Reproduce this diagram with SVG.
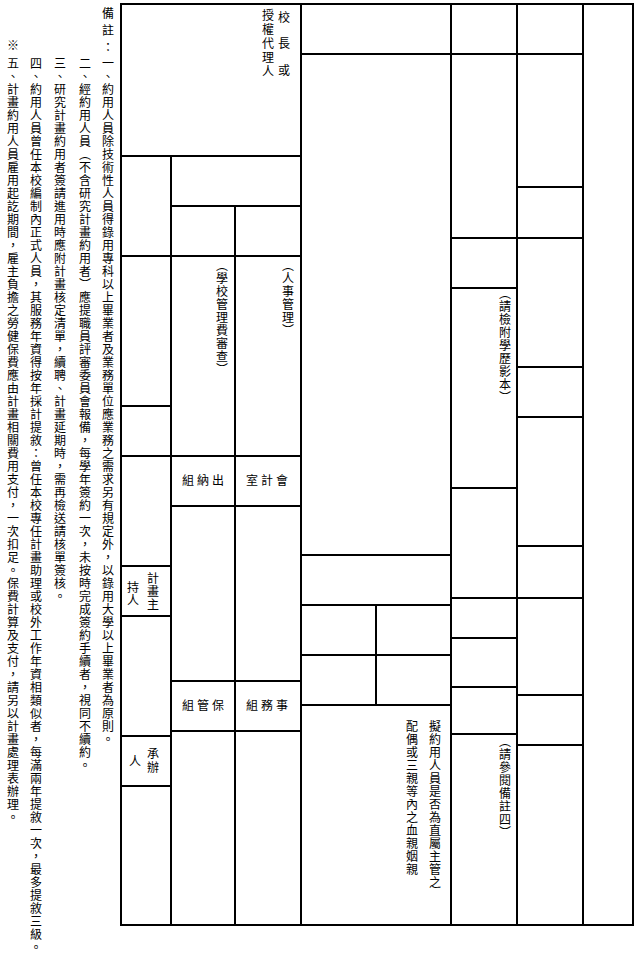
<svg xmlns="http://www.w3.org/2000/svg" width="640" height="954" viewBox="0 0 640 954">
<style>
.ln{stroke:#000;stroke-width:2;fill:none;stroke-linecap:square}
.t{font-family:"Noto Sans CJK TC","Noto Sans CJK SC",sans-serif;font-size:12px;fill:#000}
.v{writing-mode:vertical-rl;letter-spacing:1px}
</style>
<rect width="640" height="954" fill="#fff"/>
<g id="grid" class="ln">
<rect x="121" y="4" width="512" height="921"/>
<line x1="301" y1="4" x2="301" y2="925"/>
<line x1="451" y1="4" x2="451" y2="925"/>
<line x1="517" y1="4" x2="517" y2="925"/>
<line x1="583" y1="4" x2="583" y2="925"/>
<line x1="171" y1="156" x2="171" y2="925"/>
<line x1="235" y1="206" x2="235" y2="925"/>
<line x1="376" y1="605" x2="376" y2="705"/>
<line x1="121" y1="156" x2="301" y2="156"/>
<line x1="171" y1="206" x2="301" y2="206"/>
<line x1="121" y1="256" x2="301" y2="256"/>
<line x1="121" y1="406" x2="171" y2="406"/>
<line x1="121" y1="456" x2="301" y2="456"/>
<line x1="171" y1="506" x2="301" y2="506"/>
<line x1="121" y1="566" x2="171" y2="566"/>
<line x1="121" y1="616" x2="171" y2="616"/>
<line x1="171" y1="681" x2="301" y2="681"/>
<line x1="171" y1="731" x2="301" y2="731"/>
<line x1="121" y1="736" x2="171" y2="736"/>
<line x1="121" y1="786" x2="171" y2="786"/>
<line x1="301" y1="54" x2="583" y2="54"/>
<line x1="301" y1="555" x2="451" y2="555"/>
<line x1="301" y1="605" x2="451" y2="605"/>
<line x1="301" y1="655" x2="451" y2="655"/>
<line x1="301" y1="705" x2="451" y2="705"/>
<line x1="451" y1="238" x2="583" y2="238"/>
<line x1="451" y1="598" x2="583" y2="598"/>
<line x1="451" y1="288" x2="517" y2="288"/>
<line x1="451" y1="488" x2="517" y2="488"/>
<line x1="451" y1="638" x2="517" y2="638"/>
<line x1="451" y1="687" x2="517" y2="687"/>
<line x1="451" y1="734" x2="517" y2="734"/>
<line x1="517" y1="187" x2="583" y2="187"/>
<line x1="517" y1="367" x2="583" y2="367"/>
<line x1="517" y1="417" x2="583" y2="417"/>
<line x1="517" y1="546" x2="583" y2="546"/>
<line x1="517" y1="695" x2="583" y2="695"/>
<line x1="517" y1="745" x2="583" y2="745"/>
</g>
<g id="notes" class="t">
<text class="v" x="108" y="7" style="letter-spacing:5px">備註：</text>
<text class="v" x="108" y="57">一、約用人員除技術性人員得錄用專科以上畢業者及業務單位應業務之需求另有規定外，以錄用大學以上畢業者為原則。</text>
<text class="v" x="85" y="57">二、經約用人員（不含研究計畫約用者）應提職員評審委員會報備，每學年簽約一次，未按時完成簽約手續者，視同不續約。</text>
<text class="v" x="60" y="57">三、研究計畫約用者簽請進用時應附計畫核定清單，續聘、計畫延期時，需再檢送請核單簽核。</text>
<text class="v" x="36" y="57">四、約用人員曾任本校編制內正式人員，其服務年資得按年採計提敘：曾任本校專任計畫助理或校外工作年資相類似者，每滿兩年提敘一次，最多提敘三級。</text>
<text class="v" x="13" y="39">※</text>
<text class="v" x="13" y="57">五、計畫約用人員雇用起訖期間，雇主負擔之勞健保費應由計畫相關費用支付，一次扣足。保費計算及支付，請另以計畫處理表辦理。</text>
</g>
<g id="principal" class="t">
<text x="284" y="22" text-anchor="middle">校</text>
<text x="284" y="48" text-anchor="middle">長</text>
<text x="284" y="75" text-anchor="middle">或</text>
<text class="v" x="268" y="9" style="letter-spacing:2px">授權代理人</text>
</g>
<g id="school-fee" class="t"><text class="v" x="222" y="259">（學校管理費審查）</text></g>
<g id="personnel" class="t"><text class="v" x="288" y="259">（人事管理）</text></g>
<g id="cashier" class="t"><text x="182 197 212" y="485">組納出</text></g>
<g id="accounting" class="t"><text x="246 261 276" y="485">室計會</text></g>
<g id="custody" class="t"><text x="182 197 212" y="710">組管保</text></g>
<g id="general-affairs" class="t"><text x="246 261 276" y="710">組務事</text></g>
<g id="pi" class="t">
<text class="v" x="153" y="572">計畫主</text>
<text class="v" x="133" y="581">持人</text>
</g>
<g id="handler" class="t">
<text class="v" x="153" y="747" style="letter-spacing:2px">承辦</text>
<text class="v" x="135" y="755">人</text>
</g>
<g id="relative" class="t">
<text class="v" x="435" y="720">擬約用人員是否為直屬主管之</text>
<text class="v" x="412" y="720">配偶或三親等內之血親姻親</text>
</g>
<g id="diploma" class="t"><text class="v" x="505" y="287">（請檢附學歷影本）</text></g>
<g id="see-note" class="t"><text class="v" x="505" y="735">（請參閱備註四）</text></g>
</svg>
